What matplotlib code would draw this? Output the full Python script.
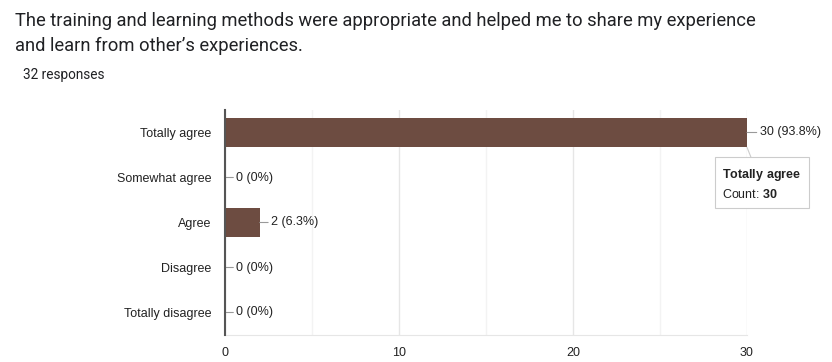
import matplotlib.pyplot as plt
import numpy as np

categories = ['Totally agree', 'Somewhat agree', 'Agree', 'Disagree', 'Totally disagree']
counts = [30, 0, 2, 0, 0]
pcts = ['93.8%', '0%', '6.3%', '0%', '0%']
title = 'The training and learning methods were appropriate and helped me to share my experience\nand learn from other\u2019s experiences.'
subtitle = '32 responses'
xticks = [0, 10, 20, 30]

bar_col = '#6d4c41'

plt.rcParams['mathtext.fontset'] = 'custom'
plt.rcParams['mathtext.rm'] = 'Liberation Sans'
plt.rcParams['mathtext.bf'] = 'Liberation Sans:bold'

fig = plt.figure(figsize=(8.32, 3.62), dpi=100)
fig.text(15/832, 1 - 12/362, title, ha='left', va='top', fontsize=13.2, family='Roboto',
         color='#202124', linespacing=1.5)
fig.text(23/832, 1 - 75/362, subtitle, ha='left', va='center', fontsize=9.8, family='Roboto', color='#202124')

ax = fig.add_axes([225/832, 1 - 335/362, 522/832, 225/362])
y = np.arange(len(categories))
ax.barh(y, counts, height=0.65, color=bar_col, zorder=3)
ax.set_ylim(len(categories) - 0.5, -0.5)
ax.set_xlim(0, 30)

ax.set_xticks(xticks)
ax.set_xticks([5, 15, 25], minor=True)
ax.grid(axis='x', which='major', color='#e6e6e6', lw=1, zorder=0)
ax.grid(axis='x', which='minor', color='#f3f3f3', lw=1, zorder=0)
ax.set_yticks(y)
ax.set_yticklabels(categories)
ax.tick_params(axis='both', which='both', length=0, labelsize=9, labelcolor='#222222')
ax.tick_params(axis='y', pad=10)
ax.tick_params(axis='x', pad=9)
for lab in ax.get_xticklabels() + ax.get_yticklabels():
    lab.set_family('Liberation Sans')
for s in ['top', 'right']:
    ax.spines[s].set_visible(False)
ax.spines['bottom'].set_color('#e6e6e6')
ax.spines['left'].set_color('#555555')
ax.spines['left'].set_linewidth(1.5)
ax.spines['left'].set_zorder(4)

for i, (c, p) in enumerate(zip(counts, pcts)):
    ax.annotate(f'{c} ({p})', xy=(c, i), xytext=(8 if c < 30 else 9, 0), textcoords='offset points',
                ha='left', va='center', fontsize=9, family='Liberation Sans', color='#222222',
                arrowprops=dict(arrowstyle='-', color='#999999', lw=0.8, shrinkA=0, shrinkB=0))

# tooltip for top bar
tip_text = r'$\mathbf{Totally\ agree}$' + '\n' + r'Count: $\mathbf{%d}$' % counts[0]
ax.annotate(tip_text, xy=(counts[0], 0.33), xytext=(-18, -14), textcoords='offset points',
            ha='left', va='top', fontsize=9, family='Liberation Sans', color='#222222',
            linespacing=1.5,
            bbox=dict(boxstyle='square,pad=0.6', fc='white', ec='#cccccc', lw=0.8),
            arrowprops=dict(arrowstyle='-', color='#cccccc', lw=0.8, shrinkA=0, shrinkB=0),
            zorder=6, annotation_clip=False)

fig.savefig('out.png', dpi=100)
